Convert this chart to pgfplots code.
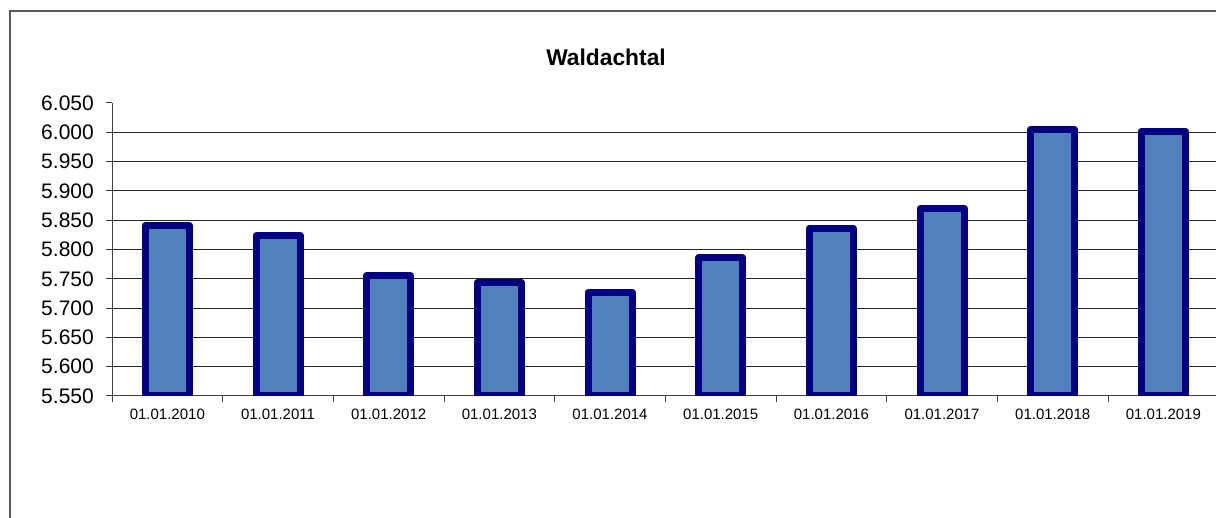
\documentclass[border=0pt]{standalone}
\usepackage{fontspec}
\setmainfont{Liberation Sans}
\usepackage{pgfplots}
\pgfplotsset{compat=1.18}
\definecolor{barfill}{RGB}{79,129,189}
\definecolor{barline}{RGB}{0,0,128}
\begin{document}
\begin{tikzpicture}
\useasboundingbox (0,0) rectangle (1216pt,517pt);
\draw[line width=1.2pt, black!65] (10pt,-20pt) -- (10pt,506pt) -- (1240pt,506pt);
\node[font=\fontsize{22.8}{26}\selectfont\bfseries, anchor=base] at (606pt,451.5pt) {Waldachtal};
\begin{axis}[
  at={(112pt,121pt)}, anchor=south west,
  scale only axis, width=1106.7pt, height=293pt,
  xmin=-0.5, xmax=9.5, ymin=5550, ymax=6050,
  axis x line*=bottom, axis y line*=left,
  axis line style={black!75, line width=1pt},
  tick align=outside,
  major tick length=6pt, minor tick length=6pt,
  xtick={0,...,9},
  xticklabels={01.01.2010,01.01.2011,01.01.2012,01.01.2013,01.01.2014,01.01.2015,01.01.2016,01.01.2017,01.01.2018,01.01.2019},
  major x tick style={draw=none},
  minor xtick={-0.5,0.5,...,9.5},
  minor x tick style={black!75, line width=1pt},
  ytick={5550,5600,...,6050},
  y tick style={black!75, line width=1pt},
  extra y ticks={5600,5650,...,6000},
  extra y tick labels={},
  extra y tick style={grid=major, major grid style={black!85, line width=1pt}},
  /pgf/number format/.cd, 1000 sep={.}, assume math mode=true,
  /pgfplots/.cd,
  yticklabel style={font=\fontsize{21}{24}\selectfont, inner sep=0pt, xshift=-12pt},
  xticklabel style={font=\fontsize{15}{18}\selectfont, inner sep=0pt, yshift=-6.5pt},
]
\addplot[ybar, bar width=44pt, fill=barfill, draw=barline, line width=7pt, line join=round]
  coordinates {(0,5841) (1,5824) (2,5755) (3,5744) (4,5727) (5,5786) (6,5836) (7,5870) (8,6005) (9,6002)};
\end{axis}
\end{tikzpicture}
\end{document}
